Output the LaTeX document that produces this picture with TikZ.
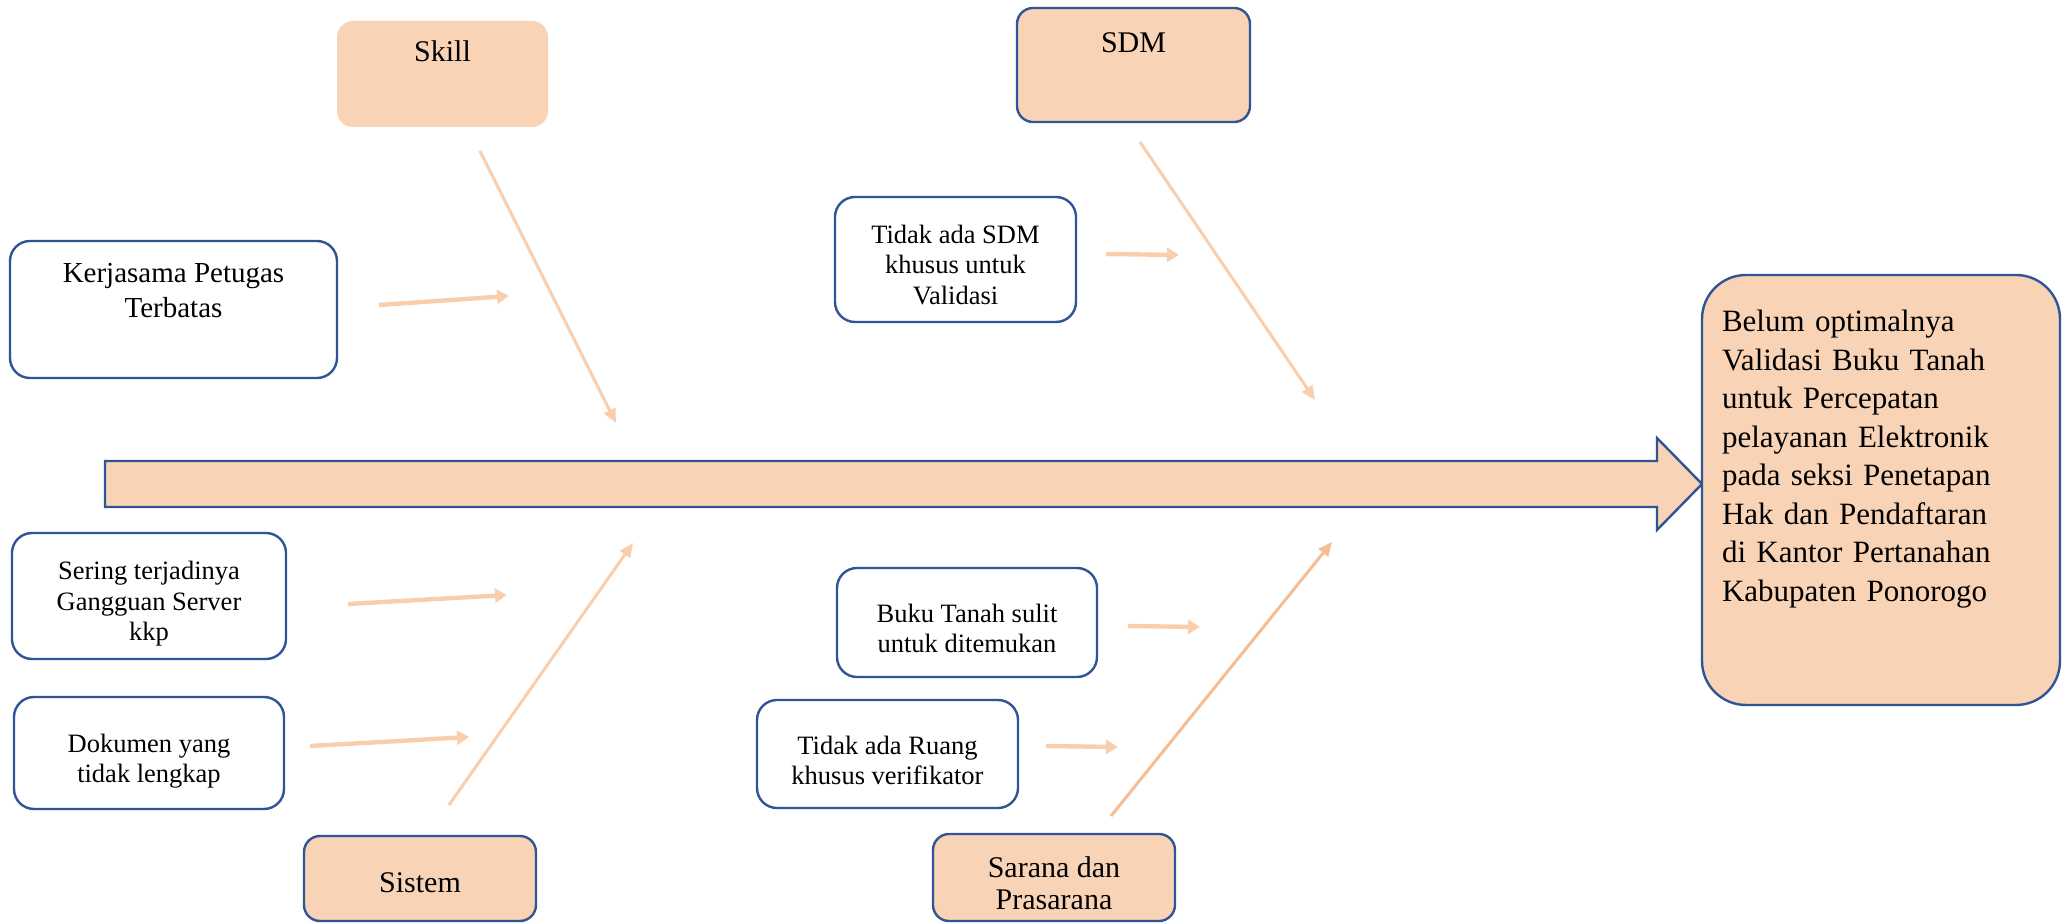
\documentclass[tikz,border=0pt]{standalone}
\usepackage{fontspec}
\setmainfont{Liberation Serif}
\usepackage{xcolor}
\definecolor{fishfill}{HTML}{F8D3B6}
\definecolor{fishline}{HTML}{2F5597}
\definecolor{fisharrow}{HTML}{F9CEAD}
\definecolor{fishbone}{HTML}{F5BD91}
\usetikzlibrary{arrows.meta}

\begin{document}
\begin{tikzpicture}[
  x=0.5pt, y=-0.5pt,
  cause/.style={draw=fishline,line width=1.2pt,rounded corners=10pt,fill=white,
    align=center,inner sep=2pt,font=\fontsize{13.25}{15.25}\selectfont},
  category/.style={fill=fishfill,rounded corners=8pt,align=center,inner sep=2pt,
    font=\fontsize{15}{16}\selectfont},
  effect/.style={draw=fishline,line width=1.2pt,fill=fishfill,rounded corners=22pt,
    align=left,text width=159pt,inner xsep=10pt,minimum height=215pt,
    font=\fontsize{15.5}{19.25}\selectfont},
  bone/.style={draw=fisharrow,line width=1.5pt,-{Triangle[length=7pt,width=6pt]}},
  arr/.style={draw=fisharrow,line width=2.2pt,-{Triangle[length=6pt,width=7pt]}}
]
\useasboundingbox (0,0) rectangle (2067,924);
% Head of the fish
\filldraw[draw=fishline,line width=1.2pt,fill=fishfill]
  (105,461) -- (1657,461) -- (1657,438) -- (1702,484) -- (1657,530) -- (1657,507) -- (105,507) -- cycle;
\node[effect,text depth=169pt] (effect) at (1881,490) {Belum optimalnya\\Validasi Buku Tanah\\untuk Percepatan\\pelayanan Elektronik\\pada seksi Penetapan\\Hak dan Pendaftaran\\di Kantor Pertanahan\\Kabupaten Ponorogo};
% Upper categories
\node[category,minimum width=105.5pt,minimum height=53pt,text depth=23pt] (skill) at (442.5,74) {Skill};
\node[category,draw=fishline,line width=1.2pt,minimum width=116.5pt,minimum height=57pt,text depth=22pt] (sdm) at (1133.5,65) {SDM};
\node[cause,minimum width=163.5pt,minimum height=68.5pt,text depth=19pt,
  font=\fontsize{14.5}{17.5}\selectfont] (kerja) at (173.5,309.5) {Kerjasama Petugas\\Terbatas};
\node[cause,minimum width=120.5pt,minimum height=62.5pt,text height=45pt] (tdksdm) at (955.5,259.5) {Tidak ada SDM\\khusus untuk\\Validasi};
% Lower categories
\node[cause,minimum width=137pt,minimum height=63pt,text height=47.5pt] (server) at (149,596) {Sering terjadinya\\Gangguan Server\\kkp};
\node[cause,minimum width=135pt,minimum height=56pt,text height=32.5pt] (dokumen) at (149,753) {Dokumen yang\\tidak lengkap};
\node[category,draw=fishline,line width=1.2pt,minimum width=116pt,minimum height=42.5pt,text height=14.2pt] (sistem) at (420,878.5) {Sistem};
\node[cause,minimum width=130pt,minimum height=54.5pt,text height=30.25pt] (buku) at (967,622.5) {Buku Tanah sulit\\untuk ditemukan};
\node[cause,minimum width=130.5pt,minimum height=54pt,text height=30.75pt] (ruang) at (887.5,754) {Tidak ada Ruang\\khusus verifikator};
\node[category,draw=fishline,line width=1.2pt,minimum width=121pt,minimum height=43.5pt,text height=32.2pt] (sarana) at (1054,877.5) {Sarana dan\\Prasarana};
% Bones
\coordinate (skill-a) at (480,151);   \coordinate (skill-b) at (616,423);
\coordinate (sdm-a) at (1140,142);    \coordinate (sdm-b) at (1315,400);
\coordinate (sistem-a) at (449,805);  \coordinate (sistem-b) at (633,543);
\coordinate (sarana-a) at (1111,816); \coordinate (sarana-b) at (1332,542);
\draw[bone] (skill-a) -- (skill-b);
\draw[bone] (sdm-a) -- (sdm-b);
\draw[bone] (sistem-a) -- (sistem-b);
\draw[bone,draw=fishbone] (sarana-a) -- (sarana-b);
% Small arrows
\coordinate (kerja-a) at (379,305);   \coordinate (kerja-b) at (509,296);
\coordinate (tdksdm-a) at (1106,254); \coordinate (tdksdm-b) at (1179,255);
\coordinate (server-a) at (348,604);  \coordinate (server-b) at (507,595);
\coordinate (dokumen-a) at (310,746); \coordinate (dokumen-b) at (469,737);
\coordinate (buku-a) at (1128,626);   \coordinate (buku-b) at (1200,627);
\coordinate (ruang-a) at (1046,746);  \coordinate (ruang-b) at (1118,747);
\draw[arr] (kerja-a) -- (kerja-b);
\draw[arr] (tdksdm-a) -- (tdksdm-b);
\draw[arr] (server-a) -- (server-b);
\draw[arr] (dokumen-a) -- (dokumen-b);
\draw[arr] (buku-a) -- (buku-b);
\draw[arr] (ruang-a) -- (ruang-b);
\end{tikzpicture}
\end{document}
